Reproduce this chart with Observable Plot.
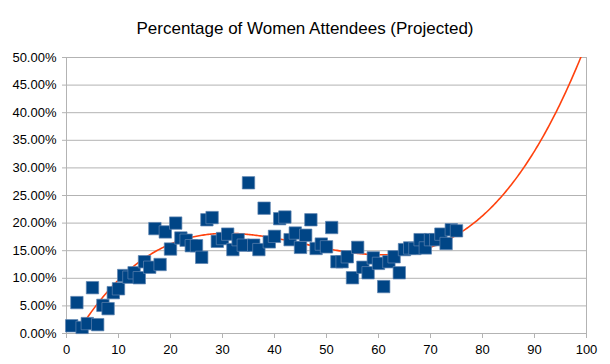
<!DOCTYPE html>
<html>
<head>
<meta charset="utf-8">
<script src="https://cdn.jsdelivr.net/npm/d3@7"></script>
<script src="https://cdn.jsdelivr.net/npm/@observablehq/plot@0.6"></script>
<style>
  html, body { margin: 0; padding: 0; background: #fff; }
  #wrap { position: relative; width: 610px; height: 364px; font-family: "Liberation Sans", Arial, sans-serif; }
  #title { position: absolute; left: 0; top: 19px; width: 610px; text-align: center; font-size: 17px; color: #000; }
</style>
</head>
<body>
<div id="wrap"><div id="title">Percentage of Women Attendees (Projected)</div></div>
<script>
const title = "Percentage of Women Attendees (Projected)";
const xValues = [1,2,3,4,5,6,7,8,9,10,11,12,13,14,15,16,17,18,19,20,21,22,23,24,25,26,27,28,29,30,31,32,33,34,35,36,37,38,39,40,41,42,43,44,45,46,47,48,49,50,51,52,53,54,55,56,57,58,59,60,61,62,63,64,65,66,67,68,69,70,71,72,73,74,75];
const pctValues = [1.4,5.6,1.1,1.8,8.3,1.6,5.1,4.5,7.4,8.1,10.5,10.2,11.0,10.1,13.0,12.0,19.0,12.5,18.4,15.3,20.0,17.3,16.9,15.9,15.9,13.8,20.6,21.0,16.7,17.2,18.0,15.2,17.0,16.0,27.3,16.0,15.2,22.7,16.6,17.6,20.8,21.1,17.0,18.2,15.6,17.8,20.6,15.4,16.2,15.7,19.2,13.0,13.0,13.9,10.1,15.6,12.0,11.0,13.7,12.7,8.5,13.0,13.9,11.0,15.2,15.5,15.4,17.0,15.5,17.0,17.0,18.0,16.3,18.8,18.6];
const xTicks = [0,10,20,30,40,50,60,70,80,90,100];
const yTicks = [0,0.05,0.10,0.15,0.20,0.25,0.30,0.35,0.40,0.45,0.50];
const trendEnd = 100;

const points = xValues.map((x, i) => ({x, y: pctValues[i] / 100}));

// cubic least-squares trend line (polynomial trendline), x scaled for conditioning
function polyFit(xs, ys, deg) {
  const n = deg + 1;
  const A = Array.from({length: n}, () => new Array(n + 1).fill(0));
  for (let k = 0; k < xs.length; k++) {
    const t = xs[k] / 100;
    const pw = [];
    for (let j = 0; j <= 2 * deg; j++) pw.push(Math.pow(t, j));
    for (let r = 0; r < n; r++) {
      for (let c = 0; c < n; c++) A[r][c] += pw[r + c];
      A[r][n] += pw[r] * ys[k];
    }
  }
  for (let i = 0; i < n; i++) {
    let p = i;
    for (let r = i + 1; r < n; r++) if (Math.abs(A[r][i]) > Math.abs(A[p][i])) p = r;
    [A[i], A[p]] = [A[p], A[i]];
    for (let r = 0; r < n; r++) {
      if (r === i) continue;
      const f = A[r][i] / A[i][i];
      for (let c = i; c <= n; c++) A[r][c] -= f * A[i][c];
    }
  }
  return A.map((row, i) => row[n] / row[i]);
}
const coef = polyFit(xValues, points.map(d => d.y), 3);
const trend = d3.range(xValues[0], trendEnd + 0.001, 0.25).map(x => {
  const t = x / 100;
  return {x, y: coef.reduce((s, c, j) => s + c * Math.pow(t, j), 0)};
});

const chart = Plot.plot({
  width: 610,
  height: 364,
  marginLeft: 66,
  marginRight: 24,
  marginTop: 57,
  marginBottom: 31,
  style: {fontFamily: "'Liberation Sans', Arial, sans-serif", fontSize: "13px", color: "#000", background: "#fff"},
  x: {domain: [0, 100], ticks: xTicks},
  y: {domain: [0, 0.5], ticks: yTicks},
  marks: [
    Plot.ruleY(yTicks, {stroke: "#b3b3b3", strokeWidth: 1}),
    Plot.ruleX([0, 100], {stroke: "#b3b3b3", strokeWidth: 1}),
    Plot.axisY({ticks: yTicks, tickFormat: d => (d * 100).toFixed(2) + "%", tickSize: 4, tickPadding: 6, stroke: "#b3b3b3", fill: "#000", fontSize: 13, label: null}),
    Plot.axisX({ticks: xTicks, tickFormat: d => String(d), tickSize: 5, tickPadding: 6, stroke: "#b3b3b3", fill: "#000", fontSize: 13, label: null}),
    Plot.line(trend, {x: "x", y: "y", stroke: "#ff420e", strokeWidth: 1.6, clip: true}),
    Plot.dot(points, {x: "x", y: "y", symbol: "square", r: 7, fill: "#004586", stroke: "#5f84b0", strokeWidth: 0.7})
  ]
});
document.getElementById("wrap").appendChild(chart);
</script>
</body>
</html>
